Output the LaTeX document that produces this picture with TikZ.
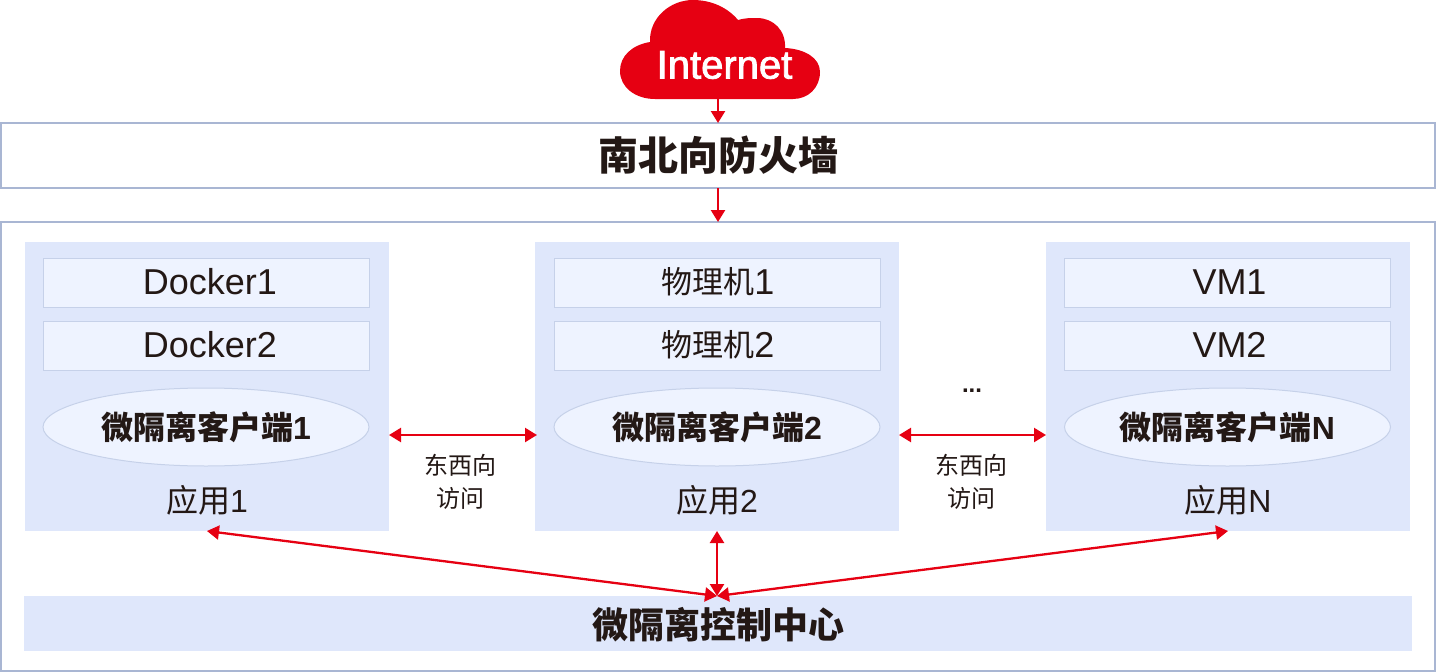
\documentclass[tikz,border=0pt]{standalone}
\usepackage{fontspec}
\setmainfont{Liberation Sans}
\newfontfamily\cjk{Noto Sans CJK SC}
\newfontfamily\cloudfont[FakeBold=2]{Liberation Sans}
\usetikzlibrary{arrows.meta,shapes.geometric}
\definecolor{hwred}{HTML}{E60012}
\definecolor{frameblue}{HTML}{A9B6D3}
\definecolor{panelblue}{HTML}{DFE7FB}
\definecolor{cellblue}{HTML}{EEF3FF}
\definecolor{cellline}{HTML}{C6D1E9}
\definecolor{inkdark}{HTML}{231815}
\newcommand{\cellcjk}[1]{\raisebox{1pt}{\fontsize{31}{31}\selectfont\cjk #1}}
\begin{document}
\begin{tikzpicture}[x=1pt, y=-1pt, > = {Triangle[length=12pt,width=14pt]},
        inkdark, inner sep=0pt, outer sep=0pt,
        framebox/.style={draw=frameblue, line width=2.5pt, fill=white},
        panel/.style={fill=panelblue, minimum width=364pt, minimum height=289pt},
        cell/.style={draw=cellline, line width=1pt, fill=cellblue, minimum width=326pt, minimum height=49pt, text height=28pt, text depth=4pt, font=\fontsize{36}{36}\selectfont},
        client/.style={ellipse, draw=cellline, line width=1pt, fill=cellblue, minimum width=326pt, minimum height=78pt, font=\fontsize{32}{32}\selectfont\bfseries},
        applabel/.style={font=\fontsize{32}{32}\selectfont},
        eastwest/.style={align=center, font=\fontsize{24}{33}\selectfont\cjk},
        link/.style={<->, hwred, line width=2.3pt},
        inlink/.style={->, hwred, line width=2.3pt}]
    \useasboundingbox (0,0) rectangle (1436,672);

    \fill[hwred] (655,99) .. controls (635,99) and (620,87) .. (620,71)
        .. controls (620,56) and (632,45) .. (650,42)
        .. controls (649,18) and (670,0) .. (693,0)
        .. controls (712,0) and (728,8) .. (738,20)
        .. controls (745,18) and (750,18) .. (757,18)
        .. controls (773,18) and (786,30) .. (785,48)
        .. controls (805,49) and (820,58) .. (820,72)
        .. controls (820,88) and (808,99) .. (793,99) -- cycle;
    \node[text=white, font=\fontsize{40}{40}\selectfont\cloudfont] (internet) at (724.5,65) {Internet};
    \coordinate (cloudfoot) at (718,99);

    \node[framebox, minimum width=1434pt, minimum height=65pt, font=\fontsize{40}{40}\selectfont\cjk\bfseries] (wall) at (718,155.5) {南北向防火墙};
    \node[framebox, minimum width=1434pt, minimum height=449pt] (zone) at (718,446.5) {};

    \node[panel] (app1) at (207,386.5) {};
    \node[panel] (app2) at (717,386.5) {};
    \node[panel] (app3) at (1228,386.5) {};

    \node[cell] (dockerA) at (206,282.5) {\hspace*{8pt}Docker1};
    \node[cell] (dockerB) at (206,345.5) {\hspace*{8pt}Docker2};
    \node[client] (clientA) at (206,427) {{\cjk 微隔离客户端}1};
    \node[applabel] at (207,500) (labelA) {{\cjk 应用}1};

    \node[cell] (hostA) at (717,282.5) {\hspace*{2pt}\cellcjk{物理机}1};
    \node[cell] (hostB) at (717,345.5) {\hspace*{2pt}\cellcjk{物理机}2};
    \node[client] (clientB) at (717,427) {{\cjk 微隔离客户端}2};
    \node[applabel] at (717,500) (labelB) {{\cjk 应用}2};

    \node[cell] (vmA) at (1227.5,282.5) {\hspace*{4pt}VM1};
    \node[cell] (vmB) at (1227.5,345.5) {\hspace*{4pt}VM2};
    \node[client] (clientC) at (1227.5,427) {{\cjk 微隔离客户端}N};
    \node[applabel] at (1228,500) (labelC) {{\cjk 应用}N};

    \node[fill=panelblue, minimum width=1388pt, minimum height=55pt, text height=29.4pt, text depth=0pt, font=\fontsize{36}{36}\selectfont\cjk\bfseries] (ctrl) at (718,623.5) {微隔离控制中心};

    \node[eastwest] (trafficA) at (460.5,482) {东西向\\访问};
    \node[eastwest] (trafficB) at (971.5,482) {东西向\\访问};
    \node[font=\fontsize{24}{24}\selectfont\bfseries] (gap) at (972,391) {...};

    \coordinate (leftA) at (389,435);
    \coordinate (rightA) at (537,435);
    \coordinate (leftB) at (899,435);
    \coordinate (rightB) at (1046,435);
    \coordinate (hub) at (717,596);

    \draw[inlink] (cloudfoot) -- (wall.north);
    \draw[inlink] (wall.south) -- (zone.north);
    \draw[link] (leftA) -- (rightA);
    \draw[link] (leftB) -- (rightB);
    \draw[link] (app1.south) -- (hub);
    \draw[link] (app2.south) -- (hub);
    \draw[link] (app3.south) -- (hub);
\end{tikzpicture}
\end{document}
